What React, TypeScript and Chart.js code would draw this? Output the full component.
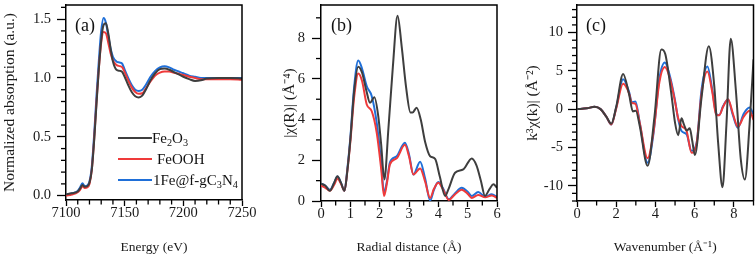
import React, { useEffect, useRef } from 'react';
import { Chart, registerables } from 'chart.js';
Chart.register(...registerables);

const FONT = '"Liberation Serif", "Times New Roman", serif';

const SERIES_NAMES = ['Fe2O3', 'FeOOH', '1Fe@f-gC3N4'];
const COLORS = ['#3e3e3e', '#ef3a3a', '#1f6fd8'];

// ---------- Panel (a): XANES ----------
const ENERGY = [7100, 7105, 7110, 7112, 7114, 7116, 7118, 7120, 7122, 7124, 7126, 7128, 7130, 7132, 7134, 7136, 7138, 7140, 7143, 7146, 7148, 7150, 7153, 7156, 7159, 7162, 7165, 7168, 7172, 7176, 7180, 7184, 7188, 7192, 7196, 7200, 7205, 7210, 7215, 7220, 7230, 7240, 7250];
const XANES_FE2O3 = [0.01, 0.02, 0.035, 0.06, 0.09, 0.075, 0.08, 0.11, 0.22, 0.47, 0.78, 1.08, 1.32, 1.45, 1.465, 1.38, 1.25, 1.14, 1.07, 1.06, 1.05, 1.01, 0.94, 0.88, 0.845, 0.835, 0.85, 0.9, 0.98, 1.04, 1.075, 1.08, 1.07, 1.05, 1.03, 1.01, 0.99, 0.975, 0.98, 0.995, 1.0, 1.0, 0.995];
const XANES_FEOOH = [0.0, 0.01, 0.03, 0.05, 0.08, 0.065, 0.07, 0.1, 0.22, 0.48, 0.8, 1.08, 1.3, 1.39, 1.38, 1.3, 1.21, 1.15, 1.11, 1.1, 1.09, 1.05, 0.98, 0.92, 0.88, 0.865, 0.87, 0.91, 0.97, 1.02, 1.045, 1.055, 1.055, 1.045, 1.035, 1.025, 1.01, 1.0, 0.99, 0.99, 0.99, 0.99, 0.985];
const XANES_1FE = [0.01, 0.02, 0.04, 0.07, 0.105, 0.08, 0.085, 0.12, 0.25, 0.52, 0.85, 1.15, 1.4, 1.51, 1.47, 1.36, 1.25, 1.18, 1.14, 1.13, 1.12, 1.07, 1.0, 0.94, 0.9, 0.89, 0.9, 0.94, 1.01, 1.06, 1.09, 1.1, 1.09, 1.07, 1.055, 1.04, 1.02, 1.01, 1.0, 1.0, 1.0, 1.0, 1.0];

// ---------- Panel (b): |chi(R)| ----------
const R_FE2O3 = [0, 0.15, 0.3, 0.45, 0.56, 0.68, 0.8, 0.9, 1.0, 1.13, 1.27, 1.4, 1.55, 1.67, 1.82, 1.95, 2.05, 2.16, 2.3, 2.45, 2.61, 2.75, 2.9, 3.05, 3.12, 3.26, 3.4, 3.55, 3.72, 3.89, 4.05, 4.23, 4.35, 4.57, 4.85, 5.14, 5.3, 5.45, 5.59, 5.75, 5.88, 6.0];
const FT_FE2O3 = [0.85, 0.75, 0.5, 0.9, 1.22, 0.9, 0.5, 1.5, 3.0, 5.4, 6.6, 6.3, 5.4, 4.83, 5.1, 4.2, 2.8, 1.06, 3.6, 6.6, 9.1, 7.6, 5.6, 4.35, 4.35, 4.58, 4.0, 2.9, 2.2, 2.07, 1.2, 0.25, 0.6, 1.39, 1.55, 2.09, 1.75, 1.0, 0.25, 0.6, 0.82, 0.65];
const R_GRID = [0, 0.15, 0.3, 0.45, 0.56, 0.68, 0.8, 0.9, 1.0, 1.13, 1.27, 1.4, 1.56, 1.73, 1.9, 2.05, 2.15, 2.25, 2.35, 2.58, 2.86, 3.0, 3.15, 3.38, 3.55, 3.72, 3.85, 4.0, 4.15, 4.36, 4.55, 4.8, 5.0, 5.14, 5.36, 5.6, 5.82, 6.0];
const FT_FEOOH = [0.75, 0.65, 0.5, 0.8, 1.1, 0.85, 0.5, 1.5, 2.9, 5.1, 6.27, 5.9, 4.74, 4.41, 3.35, 1.6, 0.25, 0.9, 1.8, 2.1, 2.76, 2.2, 1.3, 1.6, 0.95, 0.15, 0.6, 0.9, 0.6, 0.05, 0.3, 0.55, 0.35, 0.15, 0.3, 0.18, 0.27, 0.15];
const FT_1FE = [0.85, 0.75, 0.55, 0.9, 1.2, 0.9, 0.5, 1.6, 3.1, 5.6, 6.9, 6.5, 5.64, 5.15, 3.84, 1.9, 0.4, 1.0, 1.9, 2.2, 2.86, 2.3, 1.3, 1.93, 1.1, 0.02, 0.55, 0.93, 0.65, 0.08, 0.35, 0.65, 0.45, 0.25, 0.44, 0.21, 0.33, 0.21];

// ---------- Panel (c): k^3 chi(k) ----------
const K_FE2O3 = [0, 0.5, 0.9, 1.2, 1.5, 1.75, 2.0, 2.35, 2.65, 2.85, 3.0, 3.2, 3.6, 3.95, 4.3, 4.5, 4.8, 5.0, 5.16, 5.33, 5.45, 5.6, 5.75, 5.88, 6.01, 6.35, 6.72, 7.0, 7.2, 7.42, 7.62, 7.84, 8.1, 8.35, 8.56, 8.8, 9.0];
const CHI_FE2O3 = [0, 0.1, 0.3, 0.0, -1.0, -1.9, 0.3, 4.6, 2.0, -0.3, -0.2, -2.2, -7.4, -1.0, 7.8, 7.2, 2.2, -1.8, -3.4, -1.2, -2.0, -2.8, -2.5, -4.2, -6.0, 1.5, 8.2, 3.0, -4.5, -10.2, -2.0, 9.2, 2.5, -6.5, -9.2, -2.0, 6.5];
const K_GRID = [0, 0.5, 0.9, 1.2, 1.5, 1.75, 2.0, 2.35, 2.65, 2.8, 2.98, 3.2, 3.6, 3.9, 4.2, 4.48, 4.74, 4.99, 5.16, 5.33, 5.59, 5.84, 6.1, 6.35, 6.65, 6.9, 7.1, 7.25, 7.45, 7.7, 7.95, 8.2, 8.5, 8.8, 9.0];
const CHI_FEOOH = [0, 0.1, 0.3, 0.0, -1.0, -2.0, 0.1, 3.3, 2.1, 0.8, 0.7, -1.8, -6.4, -3.0, 3.5, 5.5, 4.0, 1.1, -1.2, -2.2, -2.86, -5.7, -4.5, 2.0, 4.9, 2.2, -0.8, -0.8, 0.3, 1.3, -0.6, -2.3, -1.0, -0.2, -1.4];
const CHI_1FE = [0, 0.1, 0.3, 0.0, -1.0, -2.0, 0.2, 3.9, 2.3, 0.9, 1.0, -1.8, -7.0, -3.2, 4.0, 6.1, 4.3, 1.26, -1.34, -2.86, -3.3, -5.45, -4.4, 2.55, 5.58, 2.5, -0.6, -0.8, 0.4, 1.25, -0.8, -2.42, -0.6, 0.2, -0.7];

// ---------- Tick labels ----------
const A_X_TICKS = [7100, 7150, 7200, 7250];
const A_Y_TICKS = [0.0, 0.5, 1.0, 1.5];
const B_X_TICKS = [0, 1, 2, 3, 4, 5, 6];
const B_Y_TICKS = [0, 2, 4, 6, 8];
const C_X_TICKS = [0, 2, 4, 6, 8];
const C_Y_TICKS = [-10, -5, 0, 5, 10];

type Series = { name: string; xs: number[]; ys: number[]; color: string };
type Panel = {
  key: string;
  left: number; width: number; yAxisW: number; xAxisH: number; padTop: number; padRight: number;
  xMin: number; xMax: number; yMin: number; yMax: number;
  xMajor: number[]; xMinorStep: number; yMajor: number[]; yMinorStep: number;
  xTitle: string; yTitle: string; yTitlePad: number; yDecimals: number; yTickPad: number;
  tag: string; tagX: number; series: Series[]; legend: boolean;
};

const mk = (xs: number[], ys: number[], i: number): Series => ({ name: SERIES_NAMES[i], xs, ys, color: COLORS[i] });

const PANELS: Panel[] = [
  {
    key: 'a', left: 0, width: 262, yAxisW: 66, xAxisH: 59, padTop: 5, padRight: 20,
    xMin: 7100, xMax: 7250, yMin: -0.037, yMax: 1.62,
    xMajor: A_X_TICKS, xMinorStep: 10, yMajor: A_Y_TICKS, yMinorStep: 0.1,
    xTitle: 'Energy (eV)', yTitle: 'Normalized absorption (a.u.)', yTitlePad: 1, yDecimals: 1, yTickPad: 6,
    tag: '(a)', tagX: 75, legend: true,
    series: [mk(ENERGY, XANES_FE2O3, 0), mk(ENERGY, XANES_FEOOH, 1), mk(ENERGY, XANES_1FE, 2)],
  },
  {
    key: 'b', left: 252, width: 260, yAxisW: 69, xAxisH: 58, padTop: 5, padRight: 15,
    xMin: 0, xMax: 6, yMin: 0, yMax: 9.63,
    xMajor: B_X_TICKS, xMinorStep: 0.5, yMajor: B_Y_TICKS, yMinorStep: 1,
    xTitle: 'Radial distance (Å)', yTitle: '|χ(R)| (Å⁻⁴)', yTitlePad: 29, yDecimals: 0, yTickPad: 7,
    tag: '(b)', tagX: 331, legend: false,
    series: [mk(R_FE2O3, FT_FE2O3, 0), mk(R_GRID, FT_FEOOH, 1), mk(R_GRID, FT_1FE, 2)],
  },
  {
    key: 'c', left: 502, width: 254, yAxisW: 75, xAxisH: 58, padTop: 5, padRight: 2.5,
    xMin: 0, xMax: 9, yMin: -12, yMax: 13.6,
    xMajor: C_X_TICKS, xMinorStep: 1, yMajor: C_Y_TICKS, yMinorStep: 1,
    xTitle: 'Wavenumber (Å⁻¹)', yTitle: 'k³χ(k)| (Å⁻²)', yTitlePad: 22, yDecimals: 0, yTickPad: 5,
    tag: '(c)', tagX: 586, legend: false,
    series: [mk(K_FE2O3, CHI_FE2O3, 0), mk(K_GRID, CHI_FEOOH, 1), mk(K_GRID, CHI_1FE, 2)],
  },
];

function minorValues(min: number, max: number, step: number, majors: number[]) {
  const out: number[] = [];
  const start = Math.ceil(min / step - 1e-9);
  const end = Math.floor(max / step + 1e-9);
  for (let i = start; i <= end; i++) {
    const v = +(i * step).toFixed(6);
    if (!majors.some((m) => Math.abs(m - v) < step * 1e-3)) out.push(v);
  }
  return out;
}

function drawRich(ctx: CanvasRenderingContext2D, text: string, x: number, y: number, size: number) {
  let cx = x;
  for (let i = 0; i < text.length; i++) {
    const ch = text[i];
    const sub = /[0-9]/.test(ch) && i > 0 && /[A-Za-z]/.test(text[i - 1]);
    ctx.font = `${sub ? size * 0.68 : size}px ${FONT}`;
    ctx.fillText(ch, cx, sub ? y + size * 0.28 : y);
    cx += ctx.measureText(ch).width;
  }
}

function decorPlugin(p: Panel) {
  return {
    id: 'decor_' + p.key,
    afterDraw(chart: any) {
      const ctx: CanvasRenderingContext2D = chart.ctx;
      const { left, right, top, bottom } = chart.chartArea;
      const xs = chart.scales.x;
      const ys = chart.scales.y;
      ctx.save();
      ctx.strokeStyle = '#000';
      ctx.lineWidth = 1.3;
      for (const v of minorValues(p.xMin, p.xMax, p.xMinorStep, p.xMajor)) {
        const px = xs.getPixelForValue(v);
        ctx.beginPath();
        ctx.moveTo(px, bottom);
        ctx.lineTo(px, bottom + 4.5);
        ctx.stroke();
      }
      for (const v of minorValues(p.yMin, p.yMax, p.yMinorStep, p.yMajor)) {
        const py = ys.getPixelForValue(v);
        ctx.beginPath();
        ctx.moveTo(left, py);
        ctx.lineTo(left - 5, py);
        ctx.stroke();
      }
      ctx.lineWidth = 1.5;
      ctx.beginPath();
      ctx.moveTo(left, top);
      ctx.lineTo(right, top);
      ctx.lineTo(right, bottom);
      ctx.stroke();

      ctx.fillStyle = '#111';
      ctx.textBaseline = 'middle';
      ctx.textAlign = 'left';
      ctx.font = `18px ${FONT}`;
      ctx.fillText(p.tag, p.tagX - p.left, 26);

      if (p.legend) {
        const rowsY = [138, 159, 180];
        const textX = [152, 157, 153];
        p.series.forEach((s, i) => {
          ctx.strokeStyle = s.color;
          ctx.lineWidth = 2.2;
          ctx.beginPath();
          ctx.moveTo(118 - p.left, rowsY[i]);
          ctx.lineTo(152 - p.left, rowsY[i]);
          ctx.stroke();
          ctx.fillStyle = '#111';
          drawRich(ctx, s.name, textX[i] - p.left, rowsY[i] + 1, 15);
        });
      }
      ctx.restore();
    },
  };
}

function PanelChart({ p }: { p: Panel }) {
  const ref = useRef<HTMLCanvasElement | null>(null);
  useEffect(() => {
    if (!ref.current) return;
    const chart = new Chart(ref.current, {
      type: 'line',
      data: {
        datasets: p.series.map((s) => ({
          label: s.name,
          data: s.xs.map((x, i) => ({ x, y: s.ys[i] })),
          borderColor: s.color,
          backgroundColor: s.color,
          borderWidth: 2,
          pointRadius: 0,
          fill: false,
          cubicInterpolationMode: 'monotone' as const,
        })),
      },
      options: {
        responsive: false,
        animation: false,
        devicePixelRatio: 1,
        layout: { padding: { top: p.padTop, right: p.padRight, left: 0, bottom: 0 } },
        plugins: { legend: { display: false }, tooltip: { enabled: false } },
        scales: {
          x: {
            type: 'linear',
            min: p.xMin,
            max: p.xMax,
            afterBuildTicks: (s: any) => { s.ticks = p.xMajor.map((v) => ({ value: v })); },
            afterFit: (s: any) => { s.height = p.xAxisH; s.paddingLeft = 0; s.paddingRight = 0; },
            ticks: {
              autoSkip: false, maxRotation: 0, padding: 0, color: '#1a1a1a',
              font: { family: FONT, size: 14.5, lineHeight: 1 },
              callback: (v: any) => String(v),
            },
            grid: { drawOnChartArea: false, drawTicks: true, tickLength: 6, tickColor: '#000', tickWidth: 1.3 },
            border: { display: true, color: '#000', width: 1.5 },
            title: { display: true, text: p.xTitle, color: '#1a1a1a', font: { family: FONT, size: 13.5 }, padding: { top: 0, bottom: 3 } },
          },
          y: {
            type: 'linear',
            min: p.yMin,
            max: p.yMax,
            afterBuildTicks: (s: any) => { s.ticks = p.yMajor.map((v) => ({ value: v })); },
            afterFit: (s: any) => { s.width = p.yAxisW; s.paddingTop = 0; s.paddingBottom = 0; },
            ticks: {
              autoSkip: false, padding: p.yTickPad, color: '#1a1a1a',
              font: { family: FONT, size: 14.5 },
              callback: (v: any) => Number(v).toFixed(p.yDecimals),
            },
            grid: { drawOnChartArea: false, drawTicks: true, tickLength: 9, tickColor: '#000', tickWidth: 1.3 },
            border: { display: true, color: '#000', width: 1.5 },
            title: { display: true, text: p.yTitle, color: '#1a1a1a', font: { family: FONT, size: 15.5 }, padding: { top: p.yTitlePad, bottom: 0 } },
          },
        },
      } as any,
      plugins: [decorPlugin(p)],
    });
    return () => chart.destroy();
  }, [p]);
  return (
    <canvas
      ref={ref}
      width={p.width}
      height={259}
      style={{ position: 'absolute', left: p.left, top: 0, width: p.width, height: 259 }}
    />
  );
}

export default function App() {
  return (
    <div style={{ position: 'fixed', left: 0, top: 0, width: 756, height: 259, background: '#fff', overflow: 'hidden' }}>
      {PANELS.map((p) => (
        <PanelChart key={p.key} p={p} />
      ))}
    </div>
  );
}
